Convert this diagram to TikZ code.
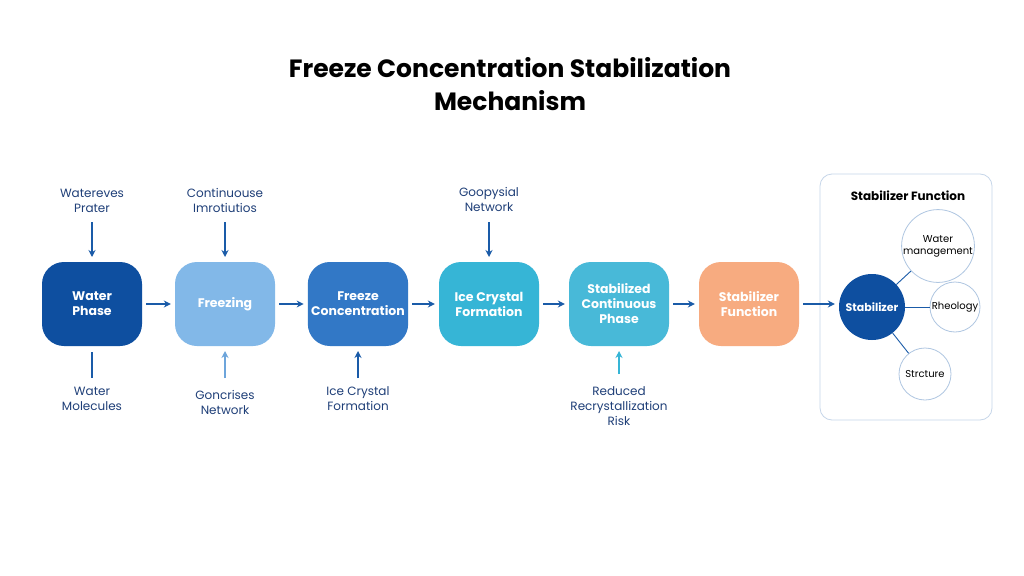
\documentclass[tikz,border=0pt]{standalone}
\usepackage{fontspec}
\setmainfont{Poppins}
\usetikzlibrary{arrows.meta}
\definecolor{dk}{HTML}{0E4FA0}
\definecolor{ln}{HTML}{1A5BA8}
\definecolor{c1}{HTML}{0E4FA0}
\definecolor{c2}{HTML}{82B8E8}
\definecolor{c3}{HTML}{3278C6}
\definecolor{c4}{HTML}{36B5D6}
\definecolor{c5}{HTML}{48B9D8}
\definecolor{c6}{HTML}{F7AB80}
\definecolor{txt}{HTML}{1F3F78}
\begin{document}
\begin{tikzpicture}[x=1pt,y=-1pt,
 box/.style={rounded corners=22pt,minimum width=100pt,minimum height=84pt,text=white,font=\fontsize{12.5}{15}\selectfont\bfseries,align=center},
 lab/.style={text=txt,font=\fontsize{12}{15}\selectfont,align=center},
 arr/.style={-{Stealth[length=7pt,width=7pt]},line width=1.3pt,draw=ln},
 sm/.style={circle,draw=ln!35,line width=0.8pt,fill=white,text=black,font=\fontsize{10}{12}\selectfont,align=center,inner sep=0pt}]
\fill[white] (0,0) rectangle (1024,575);
\useasboundingbox (0,0) rectangle (1024,575);
\node[font=\fontsize{25}{33}\selectfont\bfseries,align=center] (title) at (510,84) {Freeze Concentration Stabilization\\Mechanism};
\node[box,fill=c1] (b1) at (92,304) {Water\\Phase};
\node[box,fill=c2] (b2) at (225,304) {Freezing};
\node[box,fill=c3] (b3) at (358,304) {Freeze\\Concentration};
\node[box,fill=c4] (b4) at (489,304) {Ice Crystal\\Formation};
\node[box,fill=c5] (b5) at (619,304) {Stabilized\\Continuous\\Phase};
\node[box,fill=c6] (b6) at (749,304) {Stabilizer\\Function};
\foreach \a/\b in {b1/b2,b2/b3,b3/b4,b4/b5,b5/b6} \draw[arr] ([xshift=4pt]\a.east) -- ([xshift=-4pt]\b.west);
\node[lab] (t1) at (92,201) {Watereves\\Prater};
\node[lab] (t2) at (225,200) {Continuouse\\Imrotiutios};
\node[lab] (t4) at (489,199) {Goopysial\\Network};
\foreach \t/\b in {t1/b1,t2/b2,t4/b4} \draw[arr] (\t.south |- 0,222) -- (\b.north |- 0,257);
\node[lab] (u1) at (92,399) {Water\\Molecules};
\node[lab] (u2) at (225,402) {Goncrises\\Network};
\node[lab] (u3) at (358,399) {Ice Crystal\\Formation};
\node[lab] (u5) at (619,406) {Reduced\\Recrystallization\\Risk};
\draw[line width=1.3pt,draw=ln] (92,352) -- (92,378);
\draw[arr,draw=c2!80!ln] (225,378) -- (225,351);
\draw[arr] (358,378) -- (358,351);
\draw[arr,draw=c4] (619,374) -- (619,351);
\draw[rounded corners=12pt,draw=ln!25,line width=0.8pt,fill=white] (820,174) rectangle (992,420);
\node[font=\fontsize{12}{14}\selectfont\bfseries] (pt) at (908,196) {Stabilizer Function};
\node[circle,fill=dk,minimum size=66pt,text=white,font=\fontsize{11}{12}\selectfont\bfseries] (s) at (872,307) {Stabilizer};
\node[sm,minimum size=60pt] (w) at (938,246) {Water\\management};
\node[sm,minimum size=50pt] (r) at (955,307) {Rheology};
\node[sm,minimum size=52pt] (st) at (925,374) {Strcture};
\draw[ln,line width=0.9pt] (s) -- (w); \draw[ln,line width=0.9pt] (s) -- (r); \draw[ln,line width=0.9pt] (s) -- (st);
\coordinate (sa) at (s.west |- b6.east);
\draw[arr] ([xshift=4pt]b6.east) -- ([xshift=-4pt]sa);
\end{tikzpicture}
\end{document}
